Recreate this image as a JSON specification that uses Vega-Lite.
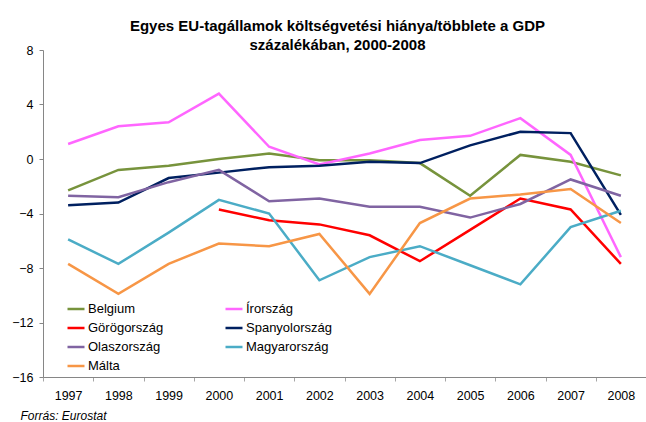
{
  "$schema": "https://vega.github.io/schema/vega-lite/v6.json",
  "width": 603,
  "height": 327,
  "autosize": {"type": "none"},
  "padding": {"left": 43, "top": 50, "right": 0, "bottom": 45},
  "background": "white",
  "title": {
    "text": ["Egyes EU-tagállamok költségvetési hiánya/többlete a GDP", "százalékában, 2000-2008"],
    "font": "Liberation Sans",
    "fontSize": 15,
    "fontWeight": "bold",
    "color": "black",
    "lineHeight": 19,
    "anchor": "middle",
    "dx": -7,
    "offset": -9
  },
  "data": {
    "values": [
      {"country": "Belgium", "year": "1997", "value": -2.3},
      {"country": "Belgium", "year": "1998", "value": -0.8},
      {"country": "Belgium", "year": "1999", "value": -0.5},
      {"country": "Belgium", "year": "2000", "value": 0.0},
      {"country": "Belgium", "year": "2001", "value": 0.4},
      {"country": "Belgium", "year": "2002", "value": -0.1},
      {"country": "Belgium", "year": "2003", "value": -0.1},
      {"country": "Belgium", "year": "2004", "value": -0.3},
      {"country": "Belgium", "year": "2005", "value": -2.7},
      {"country": "Belgium", "year": "2006", "value": 0.3},
      {"country": "Belgium", "year": "2007", "value": -0.2},
      {"country": "Belgium", "year": "2008", "value": -1.2},
      {"country": "Írország", "year": "1997", "value": 1.1},
      {"country": "Írország", "year": "1998", "value": 2.4},
      {"country": "Írország", "year": "1999", "value": 2.7},
      {"country": "Írország", "year": "2000", "value": 4.8},
      {"country": "Írország", "year": "2001", "value": 0.9},
      {"country": "Írország", "year": "2002", "value": -0.4},
      {"country": "Írország", "year": "2003", "value": 0.4},
      {"country": "Írország", "year": "2004", "value": 1.4},
      {"country": "Írország", "year": "2005", "value": 1.7},
      {"country": "Írország", "year": "2006", "value": 3.0},
      {"country": "Írország", "year": "2007", "value": 0.3},
      {"country": "Írország", "year": "2008", "value": -7.2},
      {"country": "Görögország", "year": "2000", "value": -3.7},
      {"country": "Görögország", "year": "2001", "value": -4.5},
      {"country": "Görögország", "year": "2002", "value": -4.8},
      {"country": "Görögország", "year": "2003", "value": -5.6},
      {"country": "Görögország", "year": "2004", "value": -7.5},
      {"country": "Görögország", "year": "2005", "value": -5.2},
      {"country": "Görögország", "year": "2006", "value": -2.9},
      {"country": "Görögország", "year": "2007", "value": -3.7},
      {"country": "Görögország", "year": "2008", "value": -7.7},
      {"country": "Spanyolország", "year": "1997", "value": -3.4},
      {"country": "Spanyolország", "year": "1998", "value": -3.2},
      {"country": "Spanyolország", "year": "1999", "value": -1.4},
      {"country": "Spanyolország", "year": "2000", "value": -1.0},
      {"country": "Spanyolország", "year": "2001", "value": -0.6},
      {"country": "Spanyolország", "year": "2002", "value": -0.5},
      {"country": "Spanyolország", "year": "2003", "value": -0.2},
      {"country": "Spanyolország", "year": "2004", "value": -0.3},
      {"country": "Spanyolország", "year": "2005", "value": 1.0},
      {"country": "Spanyolország", "year": "2006", "value": 2.0},
      {"country": "Spanyolország", "year": "2007", "value": 1.9},
      {"country": "Spanyolország", "year": "2008", "value": -4.1},
      {"country": "Olaszország", "year": "1997", "value": -2.7},
      {"country": "Olaszország", "year": "1998", "value": -2.8},
      {"country": "Olaszország", "year": "1999", "value": -1.7},
      {"country": "Olaszország", "year": "2000", "value": -0.8},
      {"country": "Olaszország", "year": "2001", "value": -3.1},
      {"country": "Olaszország", "year": "2002", "value": -2.9},
      {"country": "Olaszország", "year": "2003", "value": -3.5},
      {"country": "Olaszország", "year": "2004", "value": -3.5},
      {"country": "Olaszország", "year": "2005", "value": -4.3},
      {"country": "Olaszország", "year": "2006", "value": -3.3},
      {"country": "Olaszország", "year": "2007", "value": -1.5},
      {"country": "Olaszország", "year": "2008", "value": -2.7},
      {"country": "Magyarország", "year": "1997", "value": -5.9},
      {"country": "Magyarország", "year": "1998", "value": -7.7},
      {"country": "Magyarország", "year": "1999", "value": -5.4},
      {"country": "Magyarország", "year": "2000", "value": -3.0},
      {"country": "Magyarország", "year": "2001", "value": -4.0},
      {"country": "Magyarország", "year": "2002", "value": -8.9},
      {"country": "Magyarország", "year": "2003", "value": -7.2},
      {"country": "Magyarország", "year": "2004", "value": -6.4},
      {"country": "Magyarország", "year": "2005", "value": -7.8},
      {"country": "Magyarország", "year": "2006", "value": -9.2},
      {"country": "Magyarország", "year": "2007", "value": -5.0},
      {"country": "Magyarország", "year": "2008", "value": -3.8},
      {"country": "Málta", "year": "1997", "value": -7.7},
      {"country": "Málta", "year": "1998", "value": -9.9},
      {"country": "Málta", "year": "1999", "value": -7.7},
      {"country": "Málta", "year": "2000", "value": -6.2},
      {"country": "Málta", "year": "2001", "value": -6.4},
      {"country": "Málta", "year": "2002", "value": -5.5},
      {"country": "Málta", "year": "2003", "value": -9.9},
      {"country": "Málta", "year": "2004", "value": -4.7},
      {"country": "Málta", "year": "2005", "value": -2.9},
      {"country": "Málta", "year": "2006", "value": -2.6},
      {"country": "Málta", "year": "2007", "value": -2.2},
      {"country": "Málta", "year": "2008", "value": -4.7}
    ]
  },
  "mark": {"type": "line", "strokeWidth": 2.5},
  "encoding": {
    "x": {
      "field": "year",
      "type": "ordinal",
      "bandPosition": 0.5,
      "scale": {"type": "band", "paddingInner": 0, "paddingOuter": 0},
      "axis": {
        "labelAngle": 0,
        "tickBand": "extent",
        "tickSize": 4,
        "tickColor": "#A6A6A6",
        "domainColor": "#868686",
        "labelFont": "Liberation Sans",
        "labelFontSize": 12.5,
        "labelColor": "black",
        "labelPadding": 8,
        "title": "Forrás: Eurostat",
        "titleFont": "Liberation Sans",
        "titleFontSize": 12,
        "titleFontStyle": "italic",
        "titleFontWeight": "normal",
        "titleColor": "black",
        "titleAlign": "left",
        "titleAnchor": "start",
        "titleBaseline": "alphabetic",
        "titleX": -23,
        "titleY": 42
      }
    },
    "y": {
      "field": "value",
      "type": "quantitative",
      "scale": {"domain": [-16, 8], "nice": false, "zero": false},
      "axis": {
        "values": [-16, -12, -8, -4, 0, 4, 8],
        "grid": false,
        "title": null,
        "tickSize": 4,
        "tickColor": "#868686",
        "domainColor": "#868686",
        "labelFont": "Liberation Sans",
        "labelFontSize": 12.5,
        "labelColor": "black",
        "labelPadding": 6
      }
    },
    "color": {
      "field": "country",
      "type": "nominal",
      "sort": ["Belgium", "Írország", "Görögország", "Spanyolország", "Olaszország", "Magyarország", "Málta"],
      "scale": {
        "domain": ["Belgium", "Írország", "Görögország", "Spanyolország", "Olaszország", "Magyarország", "Málta"],
        "range": ["#77933C", "#FF66FF", "#FF0000", "#002060", "#8064A2", "#4BACC6", "#F79646"]
      },
      "legend": {
        "orient": "none",
        "legendX": 23,
        "legendY": 249,
        "columns": 2,
        "direction": "horizontal",
        "title": null,
        "symbolType": "stroke",
        "symbolSize": 289,
        "symbolStrokeWidth": 2.5,
        "symbolOffset": 0,
        "labelOffset": 2,
        "labelFont": "Liberation Sans",
        "labelFontSize": 13,
        "labelColor": "black",
        "rowPadding": 2,
        "columnPadding": 56,
        "padding": 0
      }
    }
  },
  "config": {"view": {"stroke": null}}
}
